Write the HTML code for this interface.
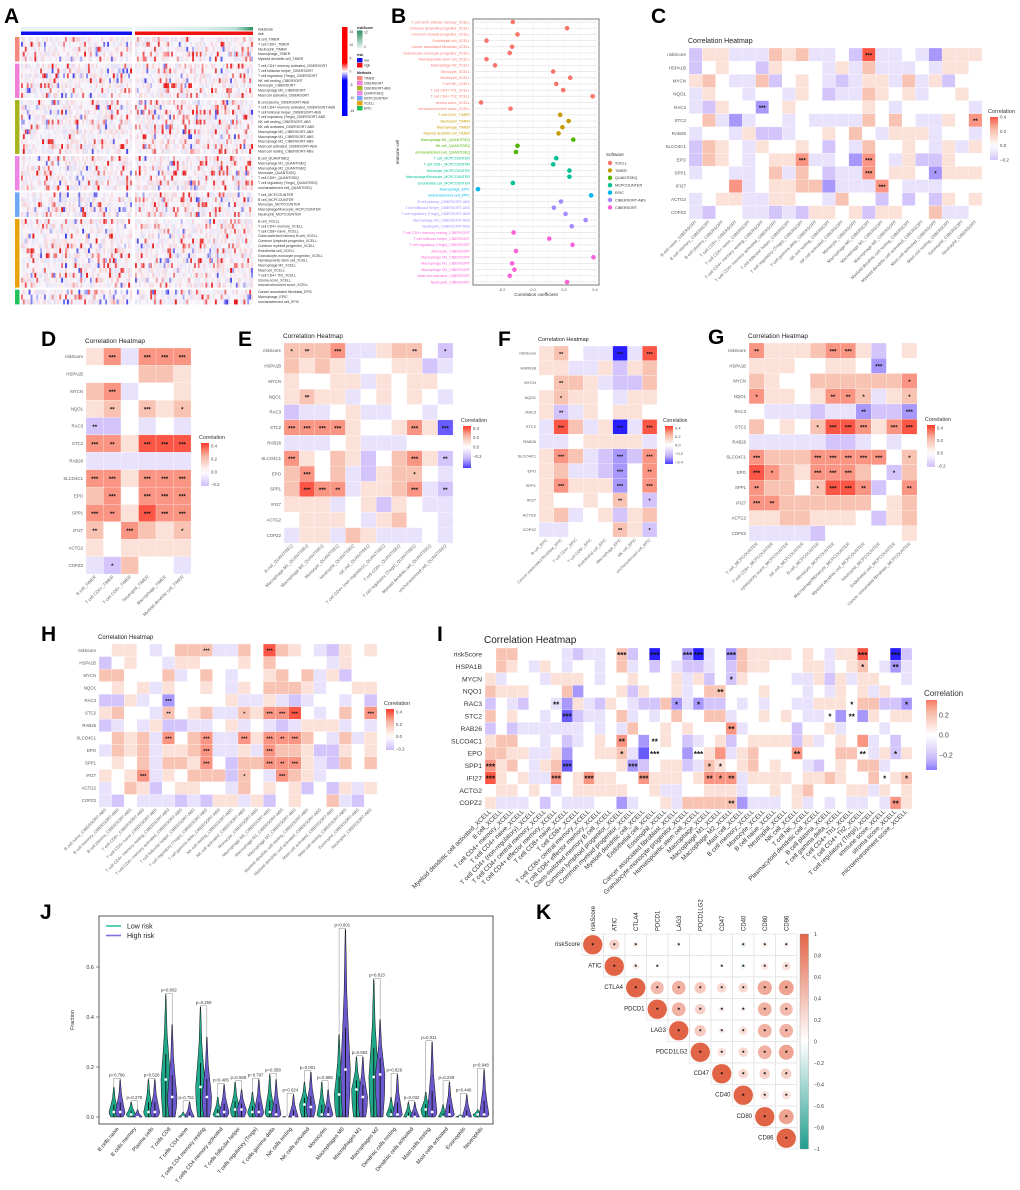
<!DOCTYPE html>
<html><head><meta charset="utf-8"><title>Immune infiltration figure</title>
<style>
html,body{margin:0;padding:0;background:#fff;}
svg{display:block;font-family:"Liberation Sans",Arial,sans-serif;}
</style></head>
<body>
<svg id="fig" width="1020" height="1190" viewBox="0 0 1020 1190" xmlns="http://www.w3.org/2000/svg">
<defs id="defs"></defs>
<rect x="0" y="0" width="1020" height="1190" fill="#fff"/>
<g font-weight="bold" font-size="21" fill="#000">
<text x="4" y="23">A</text>
<text x="391" y="23">B</text>
<text x="651" y="23">C</text>
<text x="41" y="346">D</text>
<text x="238" y="346">E</text>
<text x="498" y="346">F</text>
<text x="708" y="344">G</text>
<text x="41" y="641">H</text>
<text x="437" y="641">I</text>
<text x="40" y="919">J</text>
<text x="536" y="919">K</text>
</g>
</svg>
<script>
// ---------------- DATA ----------------
const genes = ['riskScore','HSPA1B','MYCN','NQO1','RAC3','STC2','RAB26','SLCO4C1','EPO','SPP1','IFI27','ACTG2','COPZ2'];
const cibCells = ['B cell naive','B cell memory','B cell plasma','T cell CD8+','T cell CD4+ naive','T cell CD4+ memory resting','T cell CD4+ memory activated','T cell follicular helper','T cell regulatory (Tregs)','T cell gamma delta','NK cell resting','NK cell activated','Monocyte','Macrophage M0','Macrophage M1','Macrophage M2','Myeloid dendritic cell resting','Myeloid dendritic cell activated','Mast cell activated','Mast cell resting','Eosinophil','Neutrophil'];
const timerCells = ['B cell','T cell CD4+','T cell CD8+','Neutrophil','Macrophage','Myeloid dendritic cell'];
const quantiCells = ['B cell','Macrophage M1','Macrophage M2','Monocyte','Neutrophil','NK cell','T cell CD4+ (non-regulatory)','T cell CD8+','T cell regulatory (Tregs)','Myeloid dendritic cell','uncharacterized cell'];
const epicCells = ['B cell','Cancer associated fibroblast','T cell CD4+','T cell CD8+','Endothelial cell','Macrophage','NK cell','uncharacterized cell'];
const mcpCells = ['T cell','T cell CD8+','cytotoxicity score','NK cell','B cell','Monocyte','Macrophage/Monocyte','Myeloid dendritic cell','Neutrophil','Endothelial cell','Cancer associated fibroblast'];
const xcellCells = ['Myeloid dendritic cell activated','B cell','T cell CD4+ memory','T cell CD4+ naive','T cell CD4+ (non-regulatory)','T cell CD4+ central memory','T cell CD4+ effector memory','T cell CD8+ naive','T cell CD8+','T cell CD8+ central memory','T cell CD8+ effector memory','Class-switched memory B cell','Common lymphoid progenitor','Common myeloid progenitor','Myeloid dendritic cell','Endothelial cell','Eosinophil','Cancer associated fibroblast','Granulocyte-monocyte progenitor','Hematopoietic stem cell','Macrophage','Macrophage M1','Macrophage M2','Mast cell','B cell memory','Monocyte','B cell naive','Neutrophil','NK cell','T cell NK','Plasmacytoid dendritic cell','B cell plasma','T cell gamma delta','T cell CD4+ Th1','T cell CD4+ Th2','T cell regulatory (Tregs)','immune score','stroma score','microenvironment score'];

// correlation values x10
const valsC = [
[-2,1,1,-1,-1,-1,2,1,2,-1,-1,0,-2,4,-1,-1,0,-1,-3,1,1,1],
[-2,0,1,0,0,-2,1,0,0,0,-1,1,-1,2,-1,-1,-1,0,-1,1,1,0],
[1,2,0,-1,-1,2,-2,0,1,0,-1,-2,-1,1,1,-1,2,-1,1,-2,0,0],
[-1,1,0,0,-1,0,0,-1,1,0,-2,-1,-1,2,1,0,1,-1,0,0,1,0],
[-1,-2,1,0,0,-3,0,1,0,0,0,0,0,1,0,-1,0,0,0,0,0,-1],
[0,2,-1,-3,-1,0,0,-1,0,-1,-1,-1,-1,2,0,2,0,-1,-1,1,0,3],
[-1,0,0,-1,1,-2,-2,-1,0,0,1,0,2,0,-1,1,1,1,-1,0,0,-1],
[-2,2,1,0,-1,1,0,0,1,0,-2,0,-1,2,0,0,1,0,-1,1,-1,1],
[-2,2,1,0,-1,0,1,1,3,-1,-1,0,-3,3,0,-1,1,-2,-2,1,0,0],
[-1,0,0,-1,-1,0,2,-1,2,0,-2,-1,-1,3,0,1,1,0,-3,1,1,1],
[0,0,0,3,-1,0,1,1,2,2,-3,-1,-1,-1,3,0,-1,-1,-1,0,0,0],
[-1,0,1,1,-1,-1,1,1,0,0,-1,2,0,0,-2,0,-2,0,-2,1,0,1],
[-1,-2,0,0,-1,-1,-2,-1,-2,1,1,0,1,-2,1,1,0,0,2,-1,-1,0]];
const starsC = [[0,13,3],[4,5,3],[5,21,2],[8,8,3],[8,13,3],[9,13,3],[9,18,1],[10,14,3]];

const valsD = [
[1,3,-1,3,3,3],[0,0,0,2,2,1],[2,3,-1,0,0,1],[1,2,0,2,1,2],[-2,-2,0,-1,0,-1],[3,3,1,4,4,4],
[-1,-1,-1,-1,-1,-1],[3,3,1,3,3,3],[2,3,0,3,3,3],[3,3,1,4,3,3],[2,0,3,2,1,2],[1,0,1,1,1,1],[-1,-2,2,0,0,-1]];
const starsD = [[0,1,3],[0,3,3],[0,4,3],[0,5,3],[2,1,3],[3,1,2],[3,3,3],[3,5,1],[4,0,2],[5,0,3],[5,1,2],[5,3,3],[5,4,3],[5,5,3],
[7,0,3],[7,1,3],[7,3,3],[7,4,3],[7,5,3],[8,1,3],[8,3,3],[8,4,3],[8,5,3],[9,0,3],[9,1,2],[9,3,3],[9,4,3],[9,5,3],[10,0,2],[10,2,3],[10,5,1],[12,1,1]];

const valsE = [
[2,2,2,3,-1,-1,1,2,2,0,-2],[2,1,2,1,-1,0,0,1,1,-2,-1],[1,0,0,1,1,-1,1,0,1,1,0],[1,2,1,1,-1,0,1,0,1,0,-1],
[-2,-1,-1,0,1,-1,-1,0,0,-1,0],[3,3,3,3,1,0,0,1,3,1,-4],[-1,-1,-1,0,1,-1,-1,-1,0,0,0],[3,1,0,2,1,-2,0,2,3,1,-2],
[2,3,0,2,-1,-2,1,2,2,0,-1],[2,4,3,3,-1,1,1,2,3,-1,-2],[1,1,1,-1,0,1,-2,1,0,-1,-1],[0,1,1,1,0,-1,1,2,0,0,-1],[-1,1,1,-1,2,1,-1,-1,-1,0,-1]];
const starsE = [[0,0,1],[0,1,2],[0,3,3],[0,8,2],[0,10,1],[3,1,2],[5,0,3],[5,1,3],[5,2,3],[5,3,3],[5,8,3],[5,10,3],[7,0,3],[7,8,3],[7,10,2],[8,1,3],[8,8,1],[9,1,3],[9,2,3],[9,3,2],[9,8,3],[9,10,2]];

const valsF = [
[1,2,0,-1,-1,-5,-1,4],[1,1,-1,-1,1,-2,1,2],[0,2,2,1,-1,-2,-2,2],[1,2,1,1,0,-1,1,1],[1,-2,-1,1,0,1,1,0],
[-1,4,2,-1,1,-5,-1,4],[-1,-1,0,1,1,1,1,-1],[1,3,2,-1,-2,-3,-2,3],[1,2,-1,-1,-2,-3,0,3],[1,3,1,1,1,-3,0,3],
[1,0,0,1,0,2,0,-2],[1,2,-1,0,1,-2,1,2],[-1,-1,0,0,0,2,1,-2]];
const starsF = [[0,1,2],[0,5,3],[0,7,3],[2,1,2],[3,1,1],[4,1,2],[5,1,3],[5,5,3],[5,7,3],[7,1,3],[7,5,3],[7,7,3],[8,5,3],[8,7,2],[9,1,3],[9,5,3],[9,7,3],[10,5,2],[10,7,1],[12,5,2],[12,7,1]];

const valsG = [
[3,1,1,1,2,3,3,1,-2,0,1],[1,1,1,0,0,1,1,0,-3,0,0],[2,1,0,0,2,2,2,2,2,2,3],[3,1,1,0,1,3,3,2,-1,1,2],
[0,-1,-1,-1,-2,-1,-1,-3,-2,-2,-3],[2,0,1,0,2,4,4,3,1,3,4],[-1,-1,-1,-1,-1,-2,-2,-1,0,-1,0],[3,2,2,2,3,3,3,3,3,0,2],
[4,3,2,1,3,3,3,2,0,-2,2],[3,2,2,0,2,4,4,3,-2,0,3],[3,3,2,2,2,2,2,2,0,1,2],[1,1,2,2,1,1,1,0,-2,1,2],[-1,-1,-1,-1,-2,0,0,0,0,0,1]];
const starsG = [[0,0,2],[0,5,3],[0,6,3],[1,8,3],[2,10,1],[3,0,1],[3,5,2],[3,6,2],[3,7,1],[3,10,1],[4,7,2],[4,10,3],
[5,4,1],[5,5,3],[5,6,3],[5,7,3],[5,9,3],[5,10,3],[7,0,3],[7,4,3],[7,5,3],[7,6,3],[7,7,3],[7,8,3],[7,10,1],
[8,0,3],[8,1,1],[8,4,3],[8,5,3],[8,6,3],[8,9,1],[9,0,2],[9,4,1],[9,5,3],[9,6,3],[9,7,2],[9,10,2],[10,0,3],[10,1,2]];

const valsH = [
[0,1,1,0,-1,0,2,2,2,-1,-1,2,0,4,2,1,0,-1,-2,1,0,1],[-2,0,1,0,0,-1,1,1,0,0,0,1,0,2,0,0,0,0,-1,1,0,0],
[2,2,0,0,0,2,-1,0,2,0,-1,0,0,1,2,0,2,-1,1,-2,0,0],[0,1,0,1,-1,1,0,0,1,0,-1,1,0,2,2,2,1,-1,0,0,1,1],
[-2,-2,1,-1,0,-3,0,0,0,0,1,-1,-1,1,-1,-2,-1,0,0,-1,0,-2],[1,2,0,0,-1,2,0,1,2,-1,-1,2,1,3,3,4,0,-1,0,2,0,3],
[-2,-1,0,-1,1,-2,-2,-1,-1,0,1,-1,0,-1,-2,-1,1,1,1,-1,0,-1],[0,2,1,2,-1,3,0,2,3,-1,-1,3,1,3,3,3,2,0,-1,2,-1,1],
[-1,2,1,2,-1,1,1,2,3,-1,-1,1,-1,3,2,2,1,-2,-2,1,0,1],[0,1,0,2,-1,2,2,1,3,0,-2,2,2,3,3,3,1,-1,-2,2,0,2],
[1,0,1,3,-1,1,0,2,2,2,-2,2,0,-1,3,2,1,-1,0,0,0,0],[-1,0,2,1,-2,0,1,1,0,0,-1,2,0,1,0,1,-2,0,-2,1,-1,1],
[-1,-2,0,-1,-1,-1,-2,-1,-2,1,1,-1,1,-2,0,1,0,0,2,-1,-2,0]];
const starsH = [[0,8,3],[0,13,3],[4,5,3],[5,5,2],[5,11,1],[5,13,3],[5,14,3],[5,15,3],[5,21,3],[7,5,3],[7,8,3],[7,11,3],[7,13,3],[7,14,2],[7,15,3],[8,8,3],[8,13,3],[9,8,3],[9,13,3],[9,14,2],[9,15,3],[10,3,3],[10,11,1],[10,14,3]];

const valsI = [
[0,2,2,0,0,0,0,-1,-2,-1,-1,0,2,-2,0,-5,0,0,-3,-5,-1,0,-3,2,1,1,1,1,0,1,0,-1,1,1,4,0,0,-5,-2],
[0,2,1,0,-1,1,0,-1,0,0,-1,0,2,-1,0,-2,0,-1,-2,-2,-1,0,-2,2,1,1,0,0,0,1,1,-1,0,1,2,0,-1,-3,-1],
[1,-1,0,0,0,-1,1,1,1,0,-1,0,0,1,0,0,0,1,-1,1,-2,0,-2,1,0,0,0,0,-1,-1,1,-2,1,-1,1,1,0,0,-1],
[2,1,1,1,0,0,0,2,-3,0,0,0,1,-2,1,0,0,1,-1,0,2,2,0,0,0,1,0,0,0,-1,0,-1,1,0,1,-1,1,0,0],
[-2,0,-1,-2,0,0,-1,-3,1,-1,-2,1,0,-1,-2,-2,2,-3,-1,-3,-2,-2,0,-1,0,-1,0,0,-1,-1,1,1,1,0,2,2,-2,-2,-3],
[2,0,1,0,0,-1,0,-4,-2,-1,-1,0,2,-1,0,-1,0,2,0,0,2,2,-1,0,0,1,0,1,0,-1,-1,0,-3,0,-3,1,0,1,1],
[-2,0,-2,-1,-1,-1,-1,-1,-1,0,-1,0,-1,2,0,0,1,0,1,0,0,0,3,-1,0,0,0,0,-2,0,0,1,-1,0,0,0,-1,0,0],
[1,2,2,0,0,-1,0,-2,-1,0,1,0,3,0,-3,0,1,0,-2,-1,0,1,-2,0,1,1,1,1,-2,1,-1,0,1,0,3,-1,0,-2,0],
[2,2,1,1,-1,-1,1,-3,0,0,1,1,2,-1,-4,0,0,0,-3,0,1,3,-1,1,2,0,0,0,3,0,0,0,2,2,0,-1,1,-2,1],
[3,1,2,0,-1,1,2,-4,0,0,0,0,1,-3,-2,0,1,1,-2,-1,2,1,0,1,2,0,1,0,0,-1,-2,0,1,0,2,2,-1,0,0],
[4,1,0,1,-1,-1,3,0,1,3,1,1,0,0,3,1,1,1,0,1,3,3,3,-1,1,1,1,1,0,1,1,2,1,0,0,2,0,1,2],
[0,1,1,0,1,0,-1,0,1,1,1,1,1,0,0,1,-1,-1,0,0,1,1,1,-1,0,0,1,0,1,2,0,0,0,1,1,-1,1,0,1],
[1,-1,-1,-1,0,-2,0,-1,-1,-1,0,0,-3,-1,0,0,1,-1,2,2,2,2,2,-3,-1,-1,-1,0,1,-1,0,-1,0,-1,-1,0,-1,3,1]];
const starsI = [[0,12,3],[0,15,3],[0,18,3],[0,19,3],[0,22,3],[0,34,3],[0,37,3],[1,34,1],[1,37,2],[2,22,1],[3,21,2],
[4,6,2],[4,17,1],[4,19,1],[4,33,1],[4,38,1],[5,7,3],[5,31,1],[5,33,2],[6,22,2],[7,12,2],[7,15,2],
[8,12,1],[8,15,3],[8,19,3],[8,28,2],[8,34,2],[8,37,1],[9,0,3],[9,7,3],[9,13,3],[9,20,1],[9,21,1],
[10,0,3],[10,6,3],[10,9,3],[10,14,3],[10,20,2],[10,21,1],[10,22,2],[10,36,1],[10,38,1],[12,22,2],[12,37,2]];

// Panel B dot plot
const bLabels = ['T cell CD4+ effector memory_XCELL','Common lymphoid progenitor_XCELL','Common myeloid progenitor_XCELL','Endothelial cell_XCELL','Cancer associated fibroblast_XCELL','Granulocyte-monocyte progenitor_XCELL','Hematopoietic stem cell_XCELL','Macrophage M2_XCELL','Monocyte_XCELL','Neutrophil_XCELL','T cell NK_XCELL','T cell CD4+ Th1_XCELL','T cell CD4+ Th2_XCELL','stroma score_XCELL','microenvironment score_XCELL',
'T cell CD4+_TIMER','Neutrophil_TIMER','Macrophage_TIMER','Myeloid dendritic cell_TIMER',
'Macrophage M1_QUANTISEQ','NK cell_QUANTISEQ','uncharacterized cell_QUANTISEQ',
'T cell_MCPCOUNTER','T cell CD8+_MCPCOUNTER','Monocyte_MCPCOUNTER','Macrophage/Monocyte_MCPCOUNTER','Endothelial cell_MCPCOUNTER',
'Macrophage_EPIC','uncharacterized cell_EPIC',
'B cell plasma_CIBERSORT-ABS','T cell follicular helper_CIBERSORT-ABS','T cell regulatory (Tregs)_CIBERSORT-ABS','Macrophage M0_CIBERSORT-ABS','Neutrophil_CIBERSORT-ABS',
'T cell CD4+ memory resting_CIBERSORT','T cell follicular helper_CIBERSORT','T cell regulatory (Tregs)_CIBERSORT','Monocyte_CIBERSORT','Macrophage M0_CIBERSORT','Macrophage M1_CIBERSORT','Macrophage M2_CIBERSORT','Mast cell activated_CIBERSORT','Neutrophil_CIBERSORT'];
const bValues = [-0.13,0.22,-0.10,-0.30,-0.135,-0.15,-0.30,-0.245,0.13,0.24,0.15,0.195,0.385,-0.335,-0.145,
0.175,0.23,0.19,0.165, 0.26,-0.10,-0.11, 0.15,0.13,0.235,0.235,-0.13, -0.355,0.375,
0.18,0.135,0.21,0.34,0.25, -0.125,0.105,0.255,-0.11,0.39,-0.135,-0.12,-0.15,0.22];
const bSoftware = ['XCELL','XCELL','XCELL','XCELL','XCELL','XCELL','XCELL','XCELL','XCELL','XCELL','XCELL','XCELL','XCELL','XCELL','XCELL','TIMER','TIMER','TIMER','TIMER','QUANTISEQ','QUANTISEQ','QUANTISEQ','MCPCOUNTER','MCPCOUNTER','MCPCOUNTER','MCPCOUNTER','MCPCOUNTER','EPIC','EPIC','CIBERSORT-ABS','CIBERSORT-ABS','CIBERSORT-ABS','CIBERSORT-ABS','CIBERSORT-ABS','CIBERSORT','CIBERSORT','CIBERSORT','CIBERSORT','CIBERSORT','CIBERSORT','CIBERSORT','CIBERSORT','CIBERSORT'];
const bSoftList = ['XCELL','TIMER','QUANTISEQ','MCPCOUNTER','EPIC','CIBERSORT-ABS','CIBERSORT'];
const bTicks = [-0.2,0.0,0.2,0.4];

// Panel A
const aGroups = ['TIMER','CIBERSORT','CIBERSORT-ABS','QUANTISEQ','MCPCOUNTER','XCELL','EPIC'];
const aRows = [
['B cell_TIMER','T cell CD8+_TIMER','Neutrophil_TIMER','Macrophage_TIMER','Myeloid dendritic cell_TIMER'],
['T cell CD4+ memory activated_CIBERSORT','T cell follicular helper_CIBERSORT','T cell regulatory (Tregs)_CIBERSORT','NK cell resting_CIBERSORT','Monocyte_CIBERSORT','Macrophage M0_CIBERSORT','Mast cell activated_CIBERSORT'],
['B cell plasma_CIBERSORT-ABS','T cell CD4+ memory activated_CIBERSORT-ABS','T cell follicular helper_CIBERSORT-ABS','T cell regulatory (Tregs)_CIBERSORT-ABS','NK cell resting_CIBERSORT-ABS','NK cell activated_CIBERSORT-ABS','Macrophage M0_CIBERSORT-ABS','Macrophage M1_CIBERSORT-ABS','Macrophage M2_CIBERSORT-ABS','Mast cell activated_CIBERSORT-ABS','Mast cell resting_CIBERSORT-ABS'],
['B cell_QUANTISEQ','Macrophage M1_QUANTISEQ','Macrophage M2_QUANTISEQ','Monocyte_QUANTISEQ','T cell CD8+_QUANTISEQ','T cell regulatory (Tregs)_QUANTISEQ','uncharacterized cell_QUANTISEQ'],
['T cell_MCPCOUNTER','B cell_MCPCOUNTER','Monocyte_MCPCOUNTER','Macrophage/Monocyte_MCPCOUNTER','Neutrophil_MCPCOUNTER'],
['B cell_XCELL','T cell CD4+ memory_XCELL','T cell CD8+ naive_XCELL','Class-switched memory B cell_XCELL','Common lymphoid progenitor_XCELL','Common myeloid progenitor_XCELL','Endothelial cell_XCELL','Granulocyte-monocyte progenitor_XCELL','Hematopoietic stem cell_XCELL','Macrophage M2_XCELL','Mast cell_XCELL','T cell CD4+ Th2_XCELL','stroma score_XCELL','microenvironment score_XCELL'],
['Cancer associated fibroblast_EPIC','Macrophage_EPIC','uncharacterized cell_EPIC']];
const aLow = [0,-0.1,0,-0.1,-0.1, 0,0,-0.1,0,0,0.1,0.1, 0,0,0,0,-0.1,0,0.1,0,0.1,0.1,0, -0.1,0,0,0,0,0,0.1, -0.2,0,-0.2,-0.2,0.1, 0,0,-0.1,0,0,0,0,0.1,0.1,0.1,0.1,0.1,0.1,0, -0.1,0.1,-0.2];
const aHigh = [0.2,0.1,0.1,0.2,0.1, 0,0.1,0,0.1,0.1,0.2,0, 0.1,0.1,0.1,0.1,0.1,0.1,0.2,0.1,0.1,0.1,0.1, 0.1,0.1,0.1,0.1,0,0.1,-0.2, 0.1,0,0,0,0.2, 0,0,0,0,0.1,0,-0.1,-0.1,0,0.2,0,-0.1,-0.2,-0.2, -0.2,0,0.2];

// Panel J violin
const jCats = ['B cells naive','B cells memory','Plasma cells','T cells CD8','T cells CD4 naive','T cells CD4 memory resting','T cells CD4 memory activated','T cells follicular helper','T cells regulatory (Tregs)','T cells gamma delta','NK cells resting','NK cells activated','Monocytes','Macrophages M0','Macrophages M1','Macrophages M2','Dendritic cells resting','Dendritic cells activated','Mast cells resting','Mast cells activated','Eosinophils','Neutrophils'];
const jLowMax = [0.12,0.06,0.15,0.49,0.02,0.44,0.08,0.14,0.10,0.17,0.005,0.14,0.14,0.33,0.24,0.55,0.08,0.06,0.10,0.05,0.01,0.03];
const jHighMax = [0.15,0.03,0.15,0.37,0.06,0.32,0.13,0.11,0.15,0.15,0.09,0.18,0.11,0.75,0.24,0.39,0.17,0.06,0.30,0.14,0.09,0.19];
const jLowMed = [0.02,0.01,0.02,0.15,0,0.12,0.01,0.03,0.02,0.02,0,0.05,0.01,0.09,0.11,0.16,0.01,0,0.03,0,0,0.01];
const jHighMed = [0.02,0,0.02,0.08,0,0.08,0.02,0.03,0.02,0.01,0,0.04,0.01,0.19,0.08,0.17,0.01,0,0.02,0.01,0,0.01];
const jPvals = ['p=0.796','p=0.278','p=0.526','p=0.002','p=0.751','p=0.259','p=0.405','p=0.569','p=0.797','p=0.358','p=0.024','p=0.001','p=0.895','p=0.001','p=0.063','p=0.813','p=0.826','p=0.032','p=0.011','p=0.238','p=0.446','p=0.948'];
const jTicks = [0.0,0.2,0.4,0.6];

// Panel K corrplot
const kGenes = ['riskScore','ATIC','CTLA4','PDCD1','LAG3','PDCD1LG2','CD47','CD40','CD80','CD86'];
const kVals = [
[1,0.3,0.1,0.02,0.05,0,0.01,-0.1,0.1,0.1],
[0,1,0.12,0.05,0,0.01,0.06,-0.1,0.15,0.2],
[0,0,1,0.45,0.5,0.35,0.25,0.25,0.55,0.6],
[0,0,0,1,0.5,0.3,0.1,0.1,0.5,0.45],
[0,0,0,0,1,0.35,0.1,0.2,0.5,0.5],
[0,0,0,0,0,1,0.2,0.25,0.5,0.6],
[0,0,0,0,0,0,1,0.25,0.3,0.3],
[0,0,0,0,0,0,0,1,0.2,0.2],
[0,0,0,0,0,0,0,0,1,0.6],
[0,0,0,0,0,0,0,0,0,1]];
const kNoStar = [[0,3],[0,5],[0,6],[1,4],[1,5]];
const kTicks = [1,0.8,0.6,0.4,0.2,0,-0.2,-0.4,-0.6,-0.8,-1];

// ---------------- RENDER ----------------
const NS = 'http://www.w3.org/2000/svg';
const svg = document.getElementById('fig');
const defs = document.getElementById('defs');
function mk(tag, attrs, parent){
  const e = document.createElementNS(NS, tag);
  for (const k in attrs) e.setAttribute(k, attrs[k]);
  (parent || svg).appendChild(e);
  return e;
}
function T(str, x, y, size, extra, parent){
  const a = Object.assign({x:x, y:y, 'font-size':size, fill:'#333'}, extra || {});
  const e = mk('text', a, parent);
  e.textContent = str;
  return e;
}
function lerp(a,b,t){return Math.round(a+(b-a)*t);}
function mix(c1,c2,t){return 'rgb('+lerp(c1[0],c2[0],t)+','+lerp(c1[1],c2[1],t)+','+lerp(c1[2],c2[2],t)+')';}
function heatColor(v){
  const W=[255,255,255];
  if (v>=0){ const t=Math.min(v/0.5,1);
    return t<0.5 ? mix(W,[247,180,160],t/0.5) : mix([247,180,160],[255,25,10],(t-0.5)/0.5); }
  const t=Math.min(-v/0.5,1);
  return t<0.5 ? mix(W,[200,182,250],t/0.5) : mix([200,182,250],[40,30,255],(t-0.5)/0.5);
}
let gradN = 0;
function vGradient(colorFn, vTop, vBot){
  const id = 'g'+(gradN++);
  const g = mk('linearGradient', {id:id, x1:0, y1:0, x2:0, y2:1}, defs);
  for (let i=0;i<=10;i++){ const v = vTop + (vBot-vTop)*i/10;
    mk('stop', {offset:(i*10)+'%', 'stop-color':colorFn(v)}, g); }
  return id;
}

function drawHeat(cfg, vals, stars, colLabels, suffix){
  const g = mk('g', {});
  
  
  const nr = genes.length, nc = colLabels.length;
  const cw = (cfg.x1-cfg.x0)/nc, ch = (cfg.y1-cfg.y0)/nr;
  const tt = T('Correlation Heatmap', cfg.x0-1, cfg.y0-5, cfg.tf, {fill:'#222'}, g);
  
  
  for (let r=0;r<nr;r++){
    for (let c=0;c<nc;c++){
      const cell = mk('rect', {x:cfg.x0+c*cw, y:cfg.y0+r*ch, width:cw+0.05, height:ch+0.05, fill:heatColor(vals[r][c]/10), stroke:'#fff', 'stroke-width':0.25}, g);
      
      
    }
    const rl = T(genes[r], cfg.x0-3, cfg.y0+(r+0.5)*ch+cfg.rf*0.35, cfg.rf, {'text-anchor':'end', fill:cfg.rc||'#555'}, g);
    
    
  }
  stars.forEach(s=>{
    const st = T('*'.repeat(s[2]), cfg.x0+(s[1]+0.5)*cw, cfg.y0+(s[0]+0.5)*ch+cfg.sf*0.45, cfg.sf, {'text-anchor':'middle', fill:'#111', 'font-weight':'bold'}, g);
    
    
  });
  colLabels.forEach((lab,c)=>{
    const cx = cfg.x0+(c+0.6)*cw, cy = cfg.y1+3;
    const cl = T(lab+suffix, cx, cy, cfg.cf, {'text-anchor':'end', fill:cfg.cc||'#666', transform:'rotate(-45 '+cx+' '+cy+')'}, g);
    
    
  });
  const L = cfg.leg;
  const lt = T('Correlation', L.x-2, L.y-4, L.f+1, {fill:'#333'}, g);
  
  
  const gid = vGradient(heatColor, L.max, L.min);
  const lb = mk('rect', {x:L.x, y:L.y, width:L.w, height:L.h, fill:'url(#'+gid+')'}, g);
  
  
  L.ticks.forEach(v=>{
    const yy = L.y + (L.max - v)/(L.max-L.min)*L.h;
    const tk = T(v===0?'0.0':(v<0?'\u2212'+Math.abs(v).toFixed(1):v.toFixed(1)), L.x+L.w+2, yy+L.f*0.35, L.f, {fill:'#444'}, g);
    
    
  });
}

drawHeat({name:'heatmap-c', x0:689, x1:982, y0:48, y1:219, tf:7, rf:4.5, cf:4.3, sf:6,
  leg:{x:990, y:117, w:8, h:43, max:0.4, min:-0.2, ticks:[0.4,0.2,0,-0.2], f:4.5}}, valsC, starsC, cibCells, '_CIBERSORT');
drawHeat({name:'heatmap-d', x0:86, x1:191, y0:348, y1:574, tf:6.5, rf:4.3, cf:4.3, sf:6,
  leg:{x:201, y:443, w:8, h:43, max:0.45, min:-0.22, ticks:[0.4,0.2,0,-0.2], f:4.3}}, valsD, starsD, timerCells, '_TIMER');
drawHeat({name:'heatmap-e', x0:284, x1:453, y0:343, y1:543, tf:6.5, rf:4.3, cf:4.3, sf:6,
  leg:{x:463, y:426, w:8, h:42, max:0.45, min:-0.45, ticks:[0.4,0.2,0,-0.2], f:4.3}}, valsE, starsE, quantiCells, '_QUANTISEQ');
drawHeat({name:'heatmap-f', x0:539, x1:657, y0:346, y1:537, tf:5.5, rf:4, cf:4, sf:5.5,
  leg:{x:665, y:426, w:8, h:38, max:0.45, min:-0.45, ticks:[0.4,0.2,0,-0.2,-0.4], f:4}}, valsF, starsF, epicCells, '_EPIC');
drawHeat({name:'heatmap-g', x0:749, x1:917, y0:343, y1:541, tf:6.5, rf:4.3, cf:4.3, sf:6,
  leg:{x:927, y:425, w:8, h:42, max:0.45, min:-0.22, ticks:[0.4,0.2,0,-0.2], f:4.3}}, valsG, starsG, mcpCells, '_MCPCOUNTER');
drawHeat({name:'heatmap-h', x0:99, x1:377, y0:644, y1:807, tf:6, rf:4.3, cf:4.2, sf:5.5,
  leg:{x:386, y:709, w:8, h:41, max:0.45, min:-0.22, ticks:[0.4,0.2,0,-0.2], f:4.3}}, valsH, starsH, cibCells, '_CIBERSORT-ABS');
drawHeat({name:'heatmap-i', x0:485, x1:912, y0:648, y1:809, tf:10, rf:6.8, cc:'#333', rc:'#333', cf:6.3, sf:8,
  leg:{x:926, y:700, w:11, h:70, max:0.35, min:-0.35, ticks:[0.2,0,-0.2], f:7}}, valsI, starsI, xcellCells, '_XCELL');

// ---- Panel B ----
(function(){
  const g = mk('g', {});
  
  
  const softColor = {'XCELL':'#F8766D','TIMER':'#C49A00','QUANTISEQ':'#53B400','MCPCOUNTER':'#00C094','EPIC':'#00B6EB','CIBERSORT-ABS':'#A58AFF','CIBERSORT':'#FB61D7'};
  const X0=473, X1=599, Y0=19, Y1=285;
  const xs = v => 533 + v*155;
  const ys = i => 22 + i*(260/(bLabels.length-1));
  const fr = mk('rect', {x:X0, y:Y0, width:X1-X0, height:Y1-Y0, fill:'#fff', stroke:'#555', 'stroke-width':0.8}, g);
  
  
  [-0.3,-0.1,0.1,0.3].concat(bTicks).forEach(v=>{
    const gl = mk('line', {x1:xs(v), x2:xs(v), y1:Y0, y2:Y1, stroke:'#ececec', 'stroke-width':0.5}, g);
    
    
  });
  bLabels.forEach((lab,i)=>{
    const hl = mk('line', {x1:X0, x2:X1, y1:ys(i), y2:ys(i), stroke:'#e4e4e4', 'stroke-width':0.7}, g);
    
    
    const col = softColor[bSoftware[i]];
    const lt = T(lab, X0-3, ys(i)+1.3, 3.6, {'text-anchor':'end', fill:col}, g);
    
    
    const d = mk('circle', {cx:xs(bValues[i]), cy:ys(i), r:2.3, fill:col}, g);
    
    
  });
  bTicks.forEach(v=>{
    const tl = T(v.toFixed(1), xs(v), Y1+6, 4, {'text-anchor':'middle', fill:'#555'}, g);
    
    
  });
  const xt = T('Correlation coefficient', 536, 296, 4.5, {'text-anchor':'middle', fill:'#333'}, g);
  
  
  const yt = T('Immune cell', 399, 152, 4.5, {'text-anchor':'middle', fill:'#333', transform:'rotate(-90 399 152)'}, g);
  
  
  const lg = T('Software', 606, 156, 4.5, {fill:'#333'}, g);
  
  
  bSoftList.forEach((s,i)=>{
    const c = mk('circle', {cx:610, cy:163+i*7.4, r:2.2, fill:softColor[s]}, g);
    
    
    const t = T(s, 615, 164.4+i*7.4, 3.8, {fill:'#333'}, g);
    
    
  });
})();

// ---- Panel A ----
(function(){
  const g = mk('g', {});
  
  
  const groupColor = {'TIMER':'#F4877E','CIBERSORT':'#F27ED8','CIBERSORT-ABS':'#A8B41E','QUANTISEQ':'#EE86E6','MCPCOUNTER':'#6FA8F6','XCELL':'#E9A30C','EPIC':'#22C25A'};
  const LX0=21, LX1=132, HX0=135, HX1=253, nL=58, nH=62;
  const rh = 4.9, gap = 2.1;
  const rsG = mk('linearGradient', {id:'rsgrad', x1:0, y1:0, x2:1, y2:0}, defs);
  mk('stop', {offset:'0%', 'stop-color':'#eef8f6'}, rsG);
  mk('stop', {offset:'60%', 'stop-color':'#d7efea'}, rsG);
  mk('stop', {offset:'85%', 'stop-color':'#b6e0d4'}, rsG);
  mk('stop', {offset:'100%', 'stop-color':'#2e8f5a'}, rsG);
  const rb1 = mk('rect', {x:LX0, y:27, width:LX1-LX0, height:3.5, fill:'#e6f4f1'}, g);
  
  
  const rb2 = mk('rect', {x:HX0, y:27, width:HX1-HX0, height:3.5, fill:'url(#rsgrad)'}, g);
  
  
  const k1 = mk('rect', {x:LX0, y:31.5, width:LX1-LX0, height:3.5, fill:'#1010f0'}, g);
  
  
  const k2 = mk('rect', {x:HX0, y:31.5, width:HX1-HX0, height:3.5, fill:'#f01010'}, g);
  
  
  const an1 = T('riskScore', 258, 30.5, 3.6, {fill:'#222'}, g);
  
  
  const an2 = T('risk', 258, 35, 3.6, {fill:'#222'}, g);
  
  
  let seed = 12345;
  const rnd = () => { seed = (seed*1103515245 + 12345) % 2147483648; return seed/2147483648; };
  function cellColor(m){
    const u = rnd();
    const pRed = 0.07 + Math.max(m,0)*0.35, pBlue = 0.03 + Math.max(-m,0)*0.35;
    if (u < pRed) return mix([245,170,170],[232,20,20], rnd());
    if (u < pRed+pBlue) return mix([190,190,245],[60,60,230], rnd());
    const w = rnd();
    if (w < 0.45) return mix([250,246,250],[226,224,246], rnd());
    if (w < 0.75) return mix([250,240,244],[244,208,214], rnd());
    return '#f7f5fb';
  }
  let y = 37, ri = 0;
  aRows.forEach((rows, gi)=>{
    const gy0 = y;
    rows.forEach(lab=>{
      const ml = aLow[ri], mh = aHigh[ri];
      for (let c=0;c<nL;c++){
        const cell = mk('rect', {x:LX0+c*(LX1-LX0)/nL, y:y, width:(LX1-LX0)/nL+0.05, height:rh+0.05, fill:cellColor(ml)}, g);
        
        
      }
      for (let c=0;c<nH;c++){
        const cell = mk('rect', {x:HX0+c*(HX1-HX0)/nH, y:y, width:(HX1-HX0)/nH+0.05, height:rh+0.05, fill:cellColor(mh + (c>nH*0.7?0.08:0))}, g);
        
        
      }
      const rl = T(lab, 258, y+3.5, 3.5, {fill:'#333'}, g);
      
      
      y += rh; ri++;
    });
    const gs = mk('rect', {x:15, y:gy0, width:4.5, height:y-gy0, fill:groupColor[aGroups[gi]]}, g);
    
    
    y += gap;
  });
  const cbG = mk('linearGradient', {id:'abar', x1:0, y1:0, x2:0, y2:1}, defs);
  mk('stop', {offset:'0%', 'stop-color':'#f00'}, cbG);
  mk('stop', {offset:'40%', 'stop-color':'#f00'}, cbG);
  mk('stop', {offset:'50%', 'stop-color':'#fff'}, cbG);
  mk('stop', {offset:'60%', 'stop-color':'#00f'}, cbG);
  mk('stop', {offset:'100%', 'stop-color':'#00f'}, cbG);
  const cb = mk('rect', {x:342, y:27, width:5.5, height:89, fill:'url(#abar)'}, g);
  
  
  [15,10,5,0,-5,-10,-15].forEach((v,i)=>{
    const t = T(String(v), 349.5, 33+i*13.2, 3.3, {fill:'#333'}, g);
    
    
  });
  const l1 = T('riskScore', 357, 29, 3.5, {fill:'#222','font-weight':'bold'}, g);
  
  
  const rsv = mk('linearGradient', {id:'rsv', x1:0, y1:0, x2:0, y2:1}, defs);
  mk('stop', {offset:'0%', 'stop-color':'#2e8f5a'}, rsv);
  mk('stop', {offset:'100%', 'stop-color':'#eef8f6'}, rsv);
  const rsbox = mk('rect', {x:357, y:30.5, width:5.5, height:18, fill:'url(#rsv)'}, g);
  
  
  const t12 = T('12', 364, 33.5, 3.3, {fill:'#333'}, g);
  
  
  const t2 = T('2', 364, 48, 3.3, {fill:'#333'}, g);
  
  
  const l2 = T('risk', 357, 56, 3.5, {fill:'#222','font-weight':'bold'}, g);
  
  
  [['low','#1010f0'],['high','#f01010']].forEach((e,i)=>{
    const b = mk('rect', {x:357, y:58+i*5, width:5.5, height:4.5, fill:e[1]}, g);
    
    
    const t = T(e[0], 364, 61.5+i*5, 3.3, {fill:'#333'}, g);
    
    
  });
  const l3 = T('Methods', 357, 74, 3.5, {fill:'#222','font-weight':'bold'}, g);
  
  
  aGroups.forEach((m,i)=>{
    const b = mk('rect', {x:357, y:76+i*5, width:5.5, height:4.5, fill:groupColor[m]}, g);
    
    
    const t = T(m, 364, 79.5+i*5, 3.3, {fill:'#333'}, g);
    
    
  });
})();

// ---- Panel J ----
(function(){
  const g = mk('g', {});
  
  
  const X0=99, X1=493, Y0=916, Y1=1124;
  const ys = v => 1117 - v*250;
  const xc = i => 117 + i*17.33;
  const fr = mk('rect', {x:X0, y:Y0, width:X1-X0, height:Y1-Y0, fill:'#fff', stroke:'#444', 'stroke-width':0.9}, g);
  
  
  jTicks.forEach(v=>{
    const tk = mk('line', {x1:X0-3, x2:X0, y1:ys(v), y2:ys(v), stroke:'#444', 'stroke-width':0.6}, g);
    
    
    const tl = T(v.toFixed(1), X0-5, ys(v)+2, 5.5, {'text-anchor':'end', fill:'#333'}, g);
    
    
  });
  const yt = T('Fraction', 74, 1020, 5.5, {'text-anchor':'middle', fill:'#333', transform:'rotate(-90 74 1020)'}, g);
  
  
  function violin(cx, mx, md, color, nm){
    const W = 4.8;
    const prof = [[0,0.6],[md*0.5,0.9],[md,1],[md+(mx-md)*0.25,0.65],[md+(mx-md)*0.55,0.28],[mx,0.05]];
    let pts = prof.map(p=>[cx+W*p[1], ys(p[0])]);
    pts = pts.concat(prof.slice().reverse().map(p=>[cx-W*p[1], ys(p[0])]));
    const p = mk('path', {d:'M'+pts.map(q=>q[0].toFixed(1)+','+q[1].toFixed(1)).join('L')+'Z', fill:color, stroke:'#111', 'stroke-width':0.5}, g);
    
    
    const ln = mk('line', {x1:cx, x2:cx, y1:ys(0), y2:ys(md+(mx-md)*0.3), stroke:'#111', 'stroke-width':0.9}, g);
    
    
    const d = mk('circle', {cx:cx, cy:ys(md), r:1.4, fill:'#fff'}, g);
    
    
  }
  jCats.forEach((cat,i)=>{
    violin(xc(i)-3.2, jLowMax[i], jLowMed[i], '#1FA889', 'violin-low-risk');
    violin(xc(i)+3.2, jHighMax[i], jHighMed[i], '#6A5ACD', 'violin-high-risk');
    const top = Math.max(jLowMax[i], jHighMax[i]) + 0.005;
    const br = mk('path', {d:'M'+(xc(i)-3.2)+','+ys(jLowMax[i])+'V'+ys(top)+'H'+(xc(i)+3.2)+'V'+ys(jHighMax[i]), fill:'none', stroke:'#666', 'stroke-width':0.4}, g);
    
    
    const pl = T(jPvals[i], xc(i), ys(top)-2, 4.3, {'text-anchor':'middle', fill:'#333'}, g);
    
    
    const cx = xc(i)+2, cy = Y1+5;
    const cl = T(cat, cx, cy, 5.3, {'text-anchor':'end', fill:'#222', transform:'rotate(-50 '+cx+' '+cy+')'}, g);
    
    
  });
  [['Low risk','#2EC4A0'],['High risk','#7A6FE0']].forEach((e,i)=>{
    const l = mk('line', {x1:106, x2:121, y1:926+i*9.5, y2:926+i*9.5, stroke:e[1], 'stroke-width':1.6}, g);
    
    
    const t = T(e[0], 127, 928.5+i*9.5, 7, {fill:'#222'}, g);
    
    
  });
})();

// ---- Panel K ----
(function(){
  const g = mk('g', {});
  
  
  const X0=582, Y0=934, cs=21.5, n=kGenes.length;
  const kColor = v => v>=0 ? mix([255,255,255],[226,100,70],Math.min(v,1)) : mix([255,255,255],[32,157,143],Math.min(-v,1));
  const noStar = new Set(kNoStar.map(p=>p[0]+'_'+p[1]));
  for (let r=0;r<n;r++){
    for (let c=r;c<n;c++){
      const x = X0+c*cs, y = Y0+r*cs, v = kVals[r][c];
      const cell = mk('rect', {x:x, y:y, width:cs, height:cs, fill:'#fff', stroke:'#ddd', 'stroke-width':0.6}, g);
      
      
      const circ = mk('circle', {cx:x+cs/2, cy:y+cs/2, r:Math.sqrt(Math.abs(v))*cs*0.45, fill:kColor(v)}, g);
      
      
      if (!noStar.has(r+'_'+c)){
        const st = T('*', x+cs/2, y+cs/2+2.6, 6.5, {'text-anchor':'middle', fill:'#000', 'font-weight':'bold'}, g);
        
        
      }
    }
    const rl = T(kGenes[r], X0+r*cs-2, Y0+r*cs+cs/2+1, 6, {'text-anchor':'end', fill:'#222'}, g);
    
    
    const cx = X0+(r+0.5)*cs+2, cy = Y0-3;
    const cl = T(kGenes[r], cx, cy, 6, {fill:'#222', transform:'rotate(-90 '+cx+' '+cy+')'}, g);
    
    
  }
  const gid = vGradient(kColor, 1, -1);
  const cb = mk('rect', {x:800, y:934, width:8.5, height:215, fill:'url(#'+gid+')', stroke:'#999', 'stroke-width':0.4}, g);
  
  
  kTicks.forEach(v=>{
    const yy = 934 + (1-v)/2*215;
    const tk = T(v<0?'\u2212'+Math.abs(v):String(v), 814, yy+1.8, 5, {fill:'#333'}, g);
    
    
  });
})();
</script>
</body></html>
